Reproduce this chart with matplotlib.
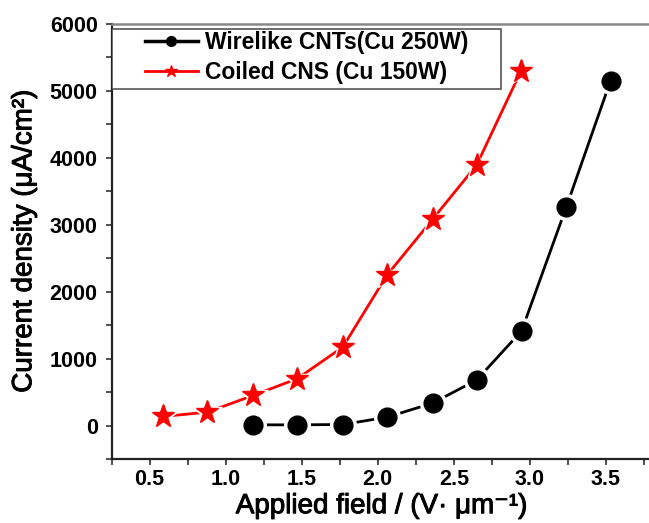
import matplotlib
matplotlib.use("Agg")
import matplotlib.pyplot as plt
import matplotlib.patheffects as pe
from matplotlib.patches import Rectangle
from matplotlib.ticker import MultipleLocator

plt.rcParams['font.family'] = ['Liberation Sans', 'DejaVu Sans']

# Wirelike CNTs (Cu 250W)
wire_x = [1.18, 1.47, 1.77, 2.06, 2.36, 2.65, 2.945, 3.24, 3.53]
wire_y = [10, 10, 15, 124, 334, 680, 1412, 3268, 5150]

# Coiled CNS (Cu 150W)
coil_x = [0.59, 0.88, 1.18, 1.47, 1.77, 2.06, 2.36, 2.65, 2.94]
coil_y = [135, 200, 449, 699, 1172, 2245, 3080, 3892, 5290]

fig = plt.figure(figsize=(6.49, 5.23), dpi=100)
ax = fig.add_axes([0.172, 0.1224, 0.832, 0.832])

series = [
    (wire_x, wire_y, "black", "o", 13.5, "Wirelike CNTs(Cu 250W)"),
    (coil_x, coil_y, "#ff0000", "*", 17, "Coiled CNS (Cu 150W)"),
]
for xs, ys, c, m, ms, lab in series:
    # line with a small white gap around each symbol
    ax.plot(xs, ys, color=c, linewidth=2.0, zorder=2)
    ax.plot(xs, ys, linestyle="none", marker=m, markersize=ms + 5,
            color="white", zorder=3)
    ax.plot(xs, ys, linestyle="none", marker=m, markersize=ms,
            color=c, zorder=4)

# legend frame drawn separately so the entries can sit further right
ax.add_patch(Rectangle((0.0, 0.8506), 0.722, 0.138, transform=ax.transAxes,
                       facecolor="white", edgecolor="#555555", linewidth=1.2,
                       zorder=5))
h1, = ax.plot([], [], color="black", marker="o", markersize=7, linewidth=2.5)
h2, = ax.plot([], [], color="#ff0000", marker="*", markersize=9, linewidth=2.0)
leg = ax.legend([h1, h2], [s[5] for s in series], loc="upper left",
                bbox_to_anchor=(0.062, 0.983), borderaxespad=0, borderpad=0,
                frameon=False, handlelength=2.3, handletextpad=0.3,
                labelspacing=0.28, prop={"weight": "bold", "size": 16.5})
leg.set_zorder(6)

ax.set_xlim(0.25, 3.8)
ax.set_ylim(-500, 6000)
ax.xaxis.set_major_locator(MultipleLocator(0.5))
ax.xaxis.set_minor_locator(MultipleLocator(0.25))
ax.yaxis.set_major_locator(MultipleLocator(1000))
ax.yaxis.set_minor_locator(MultipleLocator(500))
ax.set_xticks([0.5, 1.0, 1.5, 2.0, 2.5, 3.0, 3.5])
ax.tick_params(which="both", direction="out", length=4, width=1.2,
               color="#333333", labelsize=15.5)
ax.tick_params(axis="y", pad=6)
for lbl in ax.get_xticklabels() + ax.get_yticklabels():
    lbl.set_fontweight("bold")

ax.spines["right"].set_visible(False)
ax.spines["top"].set_color("#888888")
ax.spines["top"].set_linewidth(1.8)
for s in ("left", "bottom"):
    ax.spines[s].set_linewidth(1.6)
    ax.spines[s].set_color("#222222")

thick = [pe.withStroke(linewidth=0.7, foreground="black")]
ax.set_xlabel("Applied field / (V\u00b7 \u03bcm\u207b\u00b9)", fontsize=20,
              labelpad=2, path_effects=thick)
ax.set_ylabel("Current density (\u03bcA/cm\u00b2)", fontsize=20,
              labelpad=9, path_effects=thick)

fig.savefig("out.png", dpi=100)
